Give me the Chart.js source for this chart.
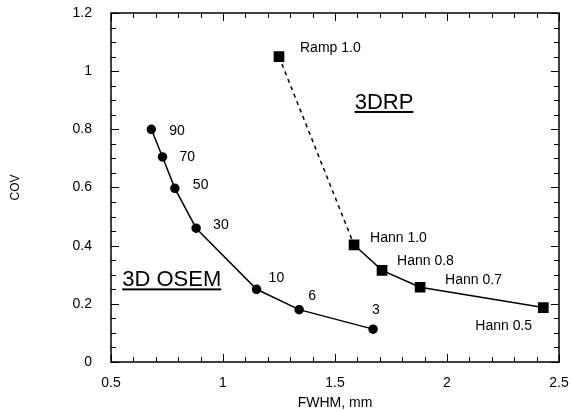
<!DOCTYPE html>
<html>
<head>
<meta charset="utf-8">
<script src="https://cdn.jsdelivr.net/npm/chart.js@4.4.0/dist/chart.umd.min.js"></script>
<style>
  html, body { margin: 0; padding: 0; background: #fff; }
  #wrap { width: 571px; height: 412px; }
</style>
</head>
<body>
<div id="wrap"><canvas id="myChart" width="571" height="412"></canvas></div>
<script>
// datos
const osemFwhm = [0.68, 0.73, 0.785, 0.88, 1.15, 1.34, 1.67];
const osemCov = [0.80, 0.705, 0.597, 0.46, 0.25, 0.18, 0.113];
const osemLabels = ['90', '70', '50', '30', '10', '6', '3'];

const drpFwhm = [1.25, 1.585, 1.71, 1.88, 2.43];
const drpCov = [1.05, 0.403, 0.315, 0.257, 0.187];
const drpLabels = ['Ramp 1.0', 'Hann 1.0', 'Hann 0.8', 'Hann 0.7', 'Hann 0.5'];

const xTicks = [0.5, 1, 1.5, 2, 2.5];
const yTicks = [0, 0.2, 0.4, 0.6, 0.8, 1, 1.2];

const FONT = 'Liberation Sans, Arial, sans-serif';

// desplazamientos de las etiquetas respecto al punto (px)
const osemOffsets = [[18, 2], [17, 0], [18, -3], [17, -3], [12, -11], [9, -14], [-1, -19]];
const drpOffsets = [[21, -8], [16, -7], [15, -9], [25, -7], [-68, 19]];

function toPoints(xs, ys) {
    return xs.map((x, i) => ({ x: x, y: ys[i] }));
}

// marco con marcas hacia dentro en los cuatro lados
const framePlugin = {
    id: 'frame',
    afterDraw(chart) {
        const ctx = chart.ctx;
        const a = chart.chartArea;
        const xs = chart.scales.x;
        const ys = chart.scales.y;
        ctx.save();
        ctx.strokeStyle = '#000';
        ctx.lineWidth = 1.5;
        ctx.strokeRect(a.left, a.top, a.right - a.left, a.bottom - a.top);
        ctx.lineWidth = 1;
        ctx.beginPath();
        for (let i = 0; i <= 20; i++) {
            const v = 0.5 + i * 0.1;
            const px = Math.round(xs.getPixelForValue(v)) + 0.5;
            const len = i % 5 === 0 ? 8 : 5;
            ctx.moveTo(px, a.bottom); ctx.lineTo(px, a.bottom - len);
            ctx.moveTo(px, a.top); ctx.lineTo(px, a.top + len);
        }
        for (let i = 0; i <= 24; i++) {
            const v = i * 0.05;
            const py = Math.round(ys.getPixelForValue(v)) + 0.5;
            const len = i % 4 === 0 ? 8 : 5;
            ctx.moveTo(a.left, py); ctx.lineTo(a.left + len, py);
            ctx.moveTo(a.right, py); ctx.lineTo(a.right - len, py);
        }
        ctx.stroke();
        ctx.restore();
    }
};

// etiquetas de los puntos y titulos subrayados
const labelPlugin = {
    id: 'labels',
    afterDatasetsDraw(chart) {
        const ctx = chart.ctx;
        const xs = chart.scales.x;
        const ys = chart.scales.y;
        ctx.save();
        ctx.fillStyle = '#000';
        ctx.font = '14px ' + FONT;
        ctx.textAlign = 'left';
        ctx.textBaseline = 'middle';
        osemLabels.forEach((t, i) => {
            const px = xs.getPixelForValue(osemFwhm[i]);
            const py = ys.getPixelForValue(osemCov[i]);
            ctx.fillText(t, px + osemOffsets[i][0], py + osemOffsets[i][1]);
        });
        drpLabels.forEach((t, i) => {
            const px = xs.getPixelForValue(drpFwhm[i]);
            const py = ys.getPixelForValue(drpCov[i]);
            ctx.fillText(t, px + drpOffsets[i][0], py + drpOffsets[i][1]);
        });

        ctx.font = '22px ' + FONT;
        ctx.textAlign = 'center';
        ctx.textBaseline = 'alphabetic';
        const titles = [['3DRP', 1.719, 0.87], ['3D OSEM', 0.771, 0.26]];
        titles.forEach(([t, x, y]) => {
            const px = xs.getPixelForValue(x);
            const py = ys.getPixelForValue(y);
            ctx.fillText(t, px, py);
            const w = ctx.measureText(t).width;
            ctx.fillRect(px - w / 2, py + 2, w, 2);
        });
        ctx.restore();
    }
};

const canvasGrafico = document.getElementById('myChart');

new Chart(canvasGrafico, {
    type: 'scatter',
    data: {
        datasets: [
            {
                label: '3D OSEM',
                data: toPoints(osemFwhm, osemCov),
                showLine: true,
                borderColor: '#000',
                backgroundColor: '#000',
                borderWidth: 1.5,
                pointStyle: 'circle',
                pointRadius: 4,
                pointHoverRadius: 4
            },
            {
                label: '3DRP',
                data: toPoints(drpFwhm, drpCov),
                showLine: true,
                borderColor: '#000',
                backgroundColor: '#000',
                borderWidth: 1.5,
                pointStyle: 'rect',
                pointRadius: 6.5,
                pointHoverRadius: 6.5,
                segment: {
                    borderDash: ctx => ctx.p0DataIndex === 0 ? [4, 4] : undefined
                }
            }
        ]
    },
    options: {
        responsive: false,
        animation: false,
        layout: { padding: { left: 0, right: 12, top: 13, bottom: 0 } },
        plugins: {
            legend: { display: false },
            tooltip: { enabled: false }
        },
        scales: {
            x: {
                type: 'linear',
                min: 0.5,
                max: 2.5,
                grid: { display: false },
                border: { display: false },
                afterBuildTicks: scale => { scale.ticks = xTicks.map(v => ({ value: v })); },
                afterFit: scale => {
                    scale.height = 50;
                    scale.paddingLeft = 0;
                    scale.paddingRight = 0;
                },
                ticks: {
                    color: '#000',
                    padding: 5,
                    font: { family: FONT, size: 14 },
                    callback: v => String(v)
                },
                title: {
                    display: true,
                    text: 'FWHM, mm',
                    color: '#000',
                    font: { family: FONT, size: 14 },
                    padding: { top: 0, bottom: 0 }
                }
            },
            y: {
                type: 'linear',
                min: 0,
                max: 1.2,
                grid: { display: false },
                border: { display: false },
                afterBuildTicks: scale => { scale.ticks = yTicks.map(v => ({ value: v })); },
                afterFit: scale => {
                    scale.width = 111;
                    scale.paddingTop = 0;
                    scale.paddingBottom = 0;
                },
                ticks: {
                    color: '#000',
                    padding: 11,
                    font: { family: FONT, size: 14 },
                    callback: v => String(v)
                },
                title: {
                    display: true,
                    text: 'COV',
                    color: '#000',
                    font: { family: FONT, size: 12 },
                    padding: { top: 8, bottom: 0 }
                }
            }
        }
    },
    plugins: [framePlugin, labelPlugin]
});
</script>
</body>
</html>
